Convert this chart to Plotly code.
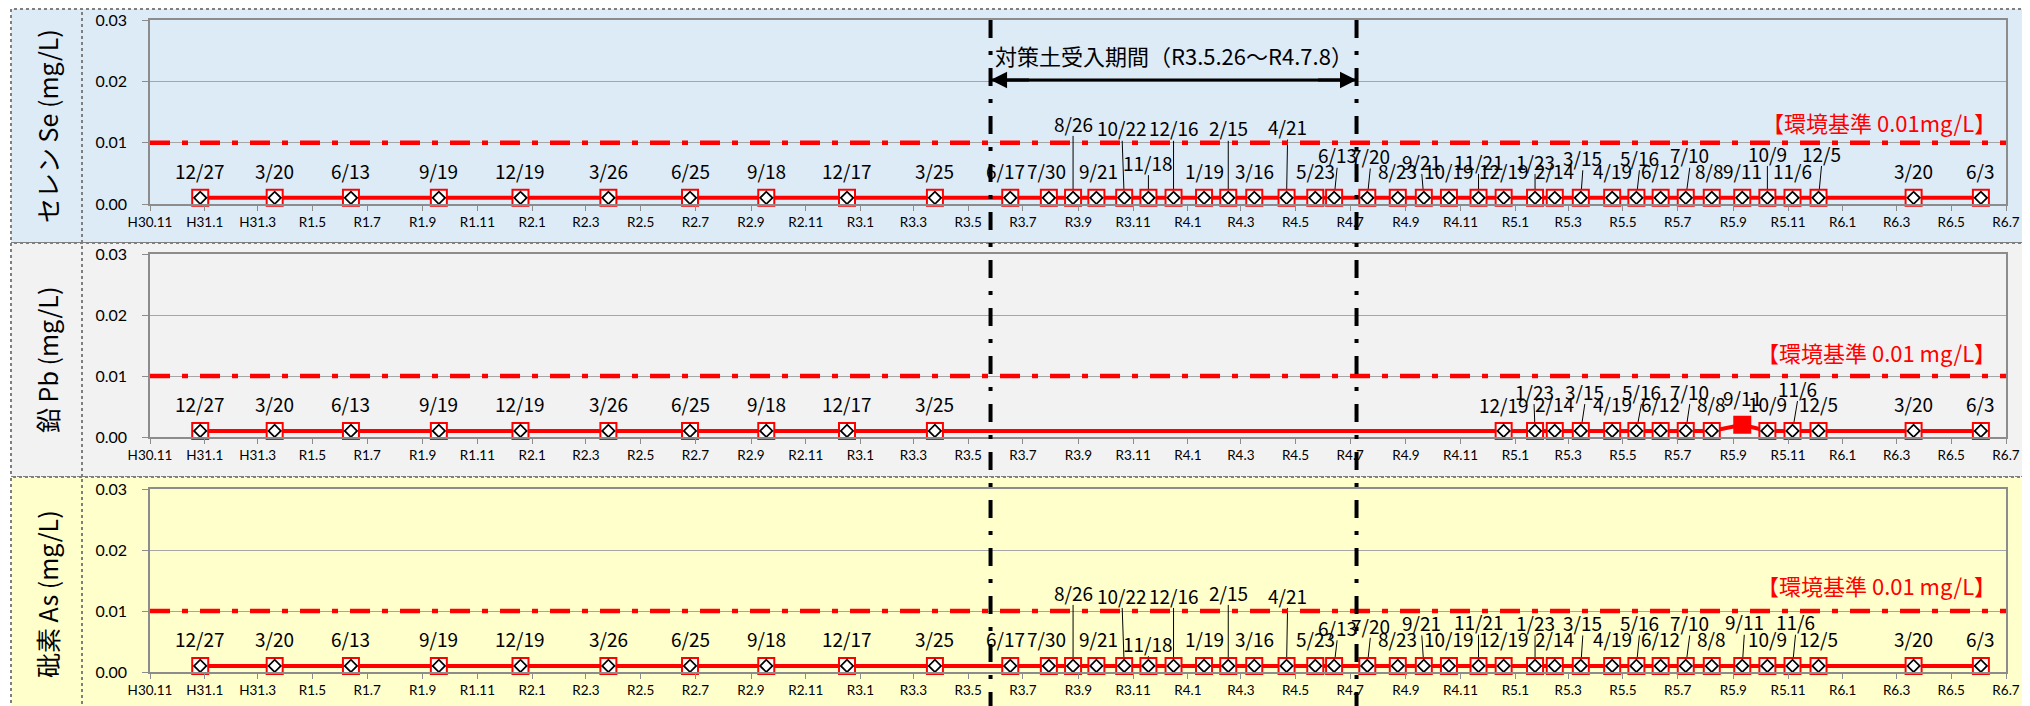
import pandas as pd
import plotly.graph_objects as go

W, H = 2030, 706
OFF = 8                      # browser default body margin
FW, FH = W - OFF, H - OFF    # figure size so that page pixels match the reference

# ---------------- data ----------------
early_dates = ["2018-12-27", "2019-03-20", "2019-06-13", "2019-09-19", "2019-12-19",
               "2020-03-26", "2020-06-25", "2020-09-18", "2020-12-17", "2021-03-25"]
period_dates = ["2021-06-17", "2021-07-30", "2021-08-26", "2021-09-21", "2021-10-22",
                "2021-11-18", "2021-12-16", "2022-01-19", "2022-02-15", "2022-03-16",
                "2022-04-21", "2022-05-23", "2022-06-13"]
late_dates_a = ["2022-07-20", "2022-08-23", "2022-09-21", "2022-10-19", "2022-11-21"]
late_dates_b = ["2022-12-19", "2023-01-23", "2023-02-14", "2023-03-15", "2023-04-19",
                "2023-05-16", "2023-06-12", "2023-07-10", "2023-08-08", "2023-09-11",
                "2023-10-09", "2023-11-06", "2023-12-05", "2024-03-20", "2024-06-03"]

se_dates = early_dates + period_dates + late_dates_a + late_dates_b
se_values = [0.001, 0.001, 0.001, 0.001, 0.001, 0.001, 0.001, 0.001, 0.001, 0.001,
             0.001, 0.001, 0.001, 0.001, 0.001, 0.001, 0.001, 0.001, 0.001, 0.001,
             0.001, 0.001, 0.001,
             0.001, 0.001, 0.001, 0.001, 0.001,
             0.001, 0.001, 0.001, 0.001, 0.001, 0.001, 0.001, 0.001, 0.001, 0.001,
             0.001, 0.001, 0.001, 0.001, 0.001]

pb_dates = early_dates + late_dates_b
pb_values = [0.001, 0.001, 0.001, 0.001, 0.001, 0.001, 0.001, 0.001, 0.001, 0.001,
             0.001, 0.001, 0.001, 0.001, 0.001, 0.001, 0.001, 0.001, 0.001, 0.002,
             0.001, 0.001, 0.001, 0.001, 0.001]

as_dates = early_dates + period_dates + late_dates_a + late_dates_b
as_values = [0.001, 0.001, 0.001, 0.001, 0.001, 0.001, 0.001, 0.001, 0.001, 0.001,
             0.001, 0.001, 0.001, 0.001, 0.001, 0.001, 0.001, 0.001, 0.001, 0.001,
             0.001, 0.001, 0.001,
             0.001, 0.001, 0.001, 0.001, 0.001,
             0.001, 0.001, 0.001, 0.001, 0.001, 0.001, 0.001, 0.001, 0.001, 0.001,
             0.001, 0.001, 0.001, 0.001, 0.001]

standard_value = 0.01
period_start = "2021-05-26"
period_end = "2022-07-08"
period_text = "対策土受入期間（R3.5.26～R4.7.8）"

tick_dates = ["2018-11-01", "2019-01-01", "2019-03-01", "2019-05-01", "2019-07-01", "2019-09-01",
              "2019-11-01", "2020-01-01", "2020-03-01", "2020-05-01", "2020-07-01", "2020-09-01",
              "2020-11-01", "2021-01-01", "2021-03-01", "2021-05-01", "2021-07-01", "2021-09-01",
              "2021-11-01", "2022-01-01", "2022-03-01", "2022-05-01", "2022-07-01", "2022-09-01",
              "2022-11-01", "2023-01-01", "2023-03-01", "2023-05-01", "2023-07-01", "2023-09-01",
              "2023-11-01", "2024-01-01", "2024-03-01", "2024-05-01", "2024-07-01"]
tick_labels = ["H30.11", "H31.1", "H31.3", "R1.5", "R1.7", "R1.9", "R1.11", "R2.1", "R2.3",
               "R2.5", "R2.7", "R2.9", "R2.11", "R3.1", "R3.3", "R3.5", "R3.7", "R3.9",
               "R3.11", "R4.1", "R4.3", "R4.5", "R4.7", "R4.9", "R4.11", "R5.1", "R5.3",
               "R5.5", "R5.7", "R5.9", "R5.11", "R6.1", "R6.3", "R6.5", "R6.7"]

# ---------------- label placement (layout only) ----------------
L = 0.0055
se_levels = [L] * 10 + [L, L, 0.0132, L, 0.0124, 0.0068, 0.0124, L, 0.0124, L, 0.0126, L, 0.0080] \
    + [0.0079, L, 0.0070, L, 0.0070] \
    + [L, 0.0070, L, 0.0076, L, 0.0076, L, 0.0080, L, L, 0.0083, L, 0.0083, L, L]
se_leaders = [0] * 10 + [0, 0, 1, 0, 1, 1, 1, 0, 1, 0, 1, 0, 1] + [1, 0, 1, 0, 1] \
    + [0, 1, 0, 1, 0, 1, 0, 1, 0, 0, 1, 0, 1, 0, 0]
se_dx = [0] * 10 + [-5, -2, 0, 2, -2, 0, 0, 0, 0, 0, 1, 0, 3] + [3, 0, -2, 0, 0] \
    + [0, 0, 0, 2, 0, 3, 0, 4, -2, 0, 0, 0, 3, 0, 0]

pb_levels = [L] * 10 + [0.0053, 0.0075, L, 0.0075, L, 0.0075, L, 0.0075, L, 0.0065, L, 0.0080, L, L, L]
pb_leaders = [0] * 10 + [0, 1, 0, 1, 0, 1, 0, 1, 0, 0, 0, 1, 0, 0, 0]
pb_dx = [0] * 10 + [0, -1, 0, 4, 0, 5, 0, 4, 0, 0, 0, 5, 0, 0, 0]

as_levels = [L] * 10 + [L, L, 0.0131, L, 0.0126, 0.0047, 0.0126, L, 0.0131, L, 0.0126, L, 0.0073] \
    + [0.0077, L, 0.0081, L, 0.0082] \
    + [L, 0.0081, L, 0.0081, L, 0.0081, L, 0.0081, L, 0.0082, L, 0.0082, L, L, L]
as_leaders = [0] * 10 + [0, 0, 1, 0, 1, 1, 1, 0, 1, 0, 1, 0, 1] + [1, 0, 1, 0, 1] \
    + [0, 1, 0, 1, 0, 1, 0, 1, 0, 1, 0, 1, 0, 0, 0]
as_dx = [0] * 10 + [-5, -2, 0, 2, -2, 0, 0, 0, 0, 0, 1, 0, 3] + [3, 0, -2, 0, 0] \
    + [0, 0, 0, 2, 0, 3, 0, 4, 0, 2, 0, 3, 0, 0, 0]

# ---------------- geometry ----------------
X0_PX, X1_PX = 150, 2006
DAYS_PER_PX = (pd.Timestamp("2024-07-01") - pd.Timestamp("2018-11-01")).days / (X1_PX - X0_PX)


def px_x(px):
    return (px - OFF) / FW


def px_y(py):
    return 1 - (py - OFF) / FH


panels = [
    dict(title="セレン Se (mg/L)", dates=se_dates, values=se_values, levels=se_levels,
         leaders=se_leaders, dx=se_dx, std_text="【環境基準 0.01mg/L】", std_y=0.0134,
         bg="#DDEBF7", top=9, bottom=243, ptop=20, pbot=204),
    dict(title="鉛 Pb (mg/L)", dates=pb_dates, values=pb_values, levels=pb_levels,
         leaders=pb_leaders, dx=pb_dx, std_text="【環境基準 0.01 mg/L】", std_y=0.0139,
         bg="#F2F2F2", top=243, bottom=477, ptop=254, pbot=437),
    dict(title="砒素 As (mg/L)", dates=as_dates, values=as_values, levels=as_levels,
         leaders=as_leaders, dx=as_dx, std_text="【環境基準 0.01 mg/L】", std_y=0.0142,
         bg="#FFFFCC", top=477, bottom=716, ptop=489, pbot=672),
]

fig = go.Figure()
shapes = []
annotations = []
LABEL_FONT = dict(family="Noto Sans CJK JP", size=19, color="black")

for i, p in enumerate(panels):
    n = "" if i == 0 else str(i + 1)
    xa, ya = "x" + n, "y" + n
    # panel background + borders
    shapes.append(dict(type="rect", xref="paper", yref="paper", layer="below",
                       x0=px_x(11), x1=px_x(2045), y0=px_y(p["bottom"]), y1=px_y(p["top"]),
                       fillcolor=p["bg"], line=dict(color="#7f7f7f", width=2, dash="dot")))
    shapes.append(dict(type="line", xref="paper", yref="paper", layer="below",
                       x0=px_x(82), x1=px_x(82), y0=px_y(p["bottom"]), y1=px_y(p["top"]),
                       line=dict(color="#7f7f7f", width=2, dash="dot")))
    # panel title (vertical)
    annotations.append(dict(xref="paper", yref="paper", x=px_x(47),
                            y=px_y((p["top"] + min(p["bottom"], 711)) / 2),
                            xanchor="center", yanchor="middle",
                            text=p["title"], textangle=-90, showarrow=False,
                            font=dict(family="Noto Sans CJK JP", size=25, color="black")))
    # environmental standard line
    shapes.append(dict(type="line", xref=xa + " domain", yref=ya, x0=0, x1=1,
                       y0=standard_value, y1=standard_value, layer="above",
                       line=dict(color="#FF0000", width=4.5, dash="20px,12px,6px,12px")))
    annotations.append(dict(xref="paper", yref=ya, x=px_x(1998), y=p["std_y"],
                            xanchor="right", yanchor="middle", showarrow=False,
                            text=p["std_text"],
                            font=dict(family="Noto Sans CJK JP", size=22, color="#FF0000")))

    dates = pd.to_datetime(p["dates"])
    vals = p["values"]
    exceed = [v > 0.0015 for v in vals]

    # leader lines
    lx, ly = [], []
    for d, v, lev, lead, dx in zip(dates, vals, p["levels"], p["leaders"], p["dx"]):
        if lead:
            lab_x = d + pd.Timedelta(days=dx * DAYS_PER_PX)
            lx += [lab_x, d, None]
            ly += [lev - 0.0021, v, None]
    fig.add_trace(go.Scatter(x=lx, y=ly, mode="lines", xaxis=xa, yaxis=ya,
                             line=dict(color="black", width=1), hoverinfo="skip",
                             showlegend=False))
    # series line + square markers
    fig.add_trace(go.Scatter(x=dates, y=vals, mode="lines+markers", xaxis=xa, yaxis=ya,
                             line=dict(color="#FF0000", width=4),
                             marker=dict(symbol="square", size=16,
                                         color=["#FF0000" if e else "white" for e in exceed],
                                         line=dict(color="#FF0000", width=2)),
                             showlegend=False, cliponaxis=False))
    # inner diamond markers
    dd = [d for d, e in zip(dates, exceed) if not e]
    dv = [v for v, e in zip(vals, exceed) if not e]
    fig.add_trace(go.Scatter(x=dd, y=dv, mode="markers", xaxis=xa, yaxis=ya,
                             marker=dict(symbol="diamond", size=9.5, color="white",
                                         line=dict(color="black", width=1.8)),
                             showlegend=False, cliponaxis=False))
    # data labels
    for d, lev, dx in zip(dates, p["levels"], p["dx"]):
        annotations.append(dict(xref=xa, yref=ya, x=d + pd.Timedelta(days=dx * DAYS_PER_PX),
                                y=lev, text=f"{d.month}/{d.day}", showarrow=False,
                                xanchor="center", yanchor="middle", font=LABEL_FONT))

    # axes
    fig.layout["xaxis" + n] = dict(
        domain=[px_x(X0_PX), px_x(X1_PX)], anchor=ya, type="date", automargin=False,
        range=["2018-11-01", "2024-07-01"], tickvals=tick_dates, ticktext=tick_labels,
        showgrid=False, showline=True, mirror=True, linecolor="#8c8c8c", linewidth=1.5,
        ticks="outside", ticklen=5, tickcolor="#8c8c8c", tickangle=0,
        tickfont=dict(family="Lato", size=13.5, color="black"), zeroline=False)
    fig.layout["yaxis" + n] = dict(
        domain=[px_y(p["pbot"]), px_y(p["ptop"])], anchor=xa, range=[0, 0.03],
        automargin=False,
        tickvals=[0, 0.01, 0.02, 0.03], ticktext=["0.00", "0.01", "0.02", "0.03"],
        showgrid=True, gridcolor="#a6a6a6", gridwidth=1, showline=True, mirror=True,
        linecolor="#8c8c8c", linewidth=1.5, ticks="outside", ticklen=6, tickcolor="#8c8c8c",
        ticklabelstandoff=12, tickfont=dict(family="Lato", size=16, color="black"),
        zeroline=False)

# period boundaries (span all panels)
for d in [period_start, period_end]:
    shapes.append(dict(type="line", xref="x", yref="paper", x0=d, x1=d,
                       y0=px_y(20), y1=-0.03, layer="above",
                       line=dict(color="black", width=4, dash="18px,13px,4px,13px")))

# double arrow + period text in top panel
ARROW_Y = 0.0202
shapes.append(dict(type="line", xref="x", yref="y", x0=period_start, x1=period_end,
                   y0=ARROW_Y, y1=ARROW_Y, layer="above", line=dict(color="black", width=3)))
for d, sgn in [(period_end, -1), (period_start, 1)]:
    annotations.append(dict(xref="x", yref="y", x=d, y=ARROW_Y, ax=sgn * 40, ay=0,
                            text="", showarrow=True, arrowhead=2, arrowsize=1.1,
                            arrowwidth=3, arrowcolor="black", standoff=0, startstandoff=0))
mid = pd.Timestamp(period_start) + (pd.Timestamp(period_end) - pd.Timestamp(period_start)) / 2
annotations.append(dict(xref="x", yref="y", x=mid, y=0.0243, text=period_text,
                        xanchor="center", yanchor="middle",
                        showarrow=False, font=dict(family="Noto Sans CJK JP", size=22,
                                                   color="black")))

fig.update_layout(width=FW, height=FH, margin=dict(l=0, r=0, t=0, b=0, autoexpand=False),
                  paper_bgcolor="white", plot_bgcolor="white",
                  shapes=shapes, annotations=annotations, showlegend=False)

fig.write_html("out.html", config={"displayModeBar": False})
